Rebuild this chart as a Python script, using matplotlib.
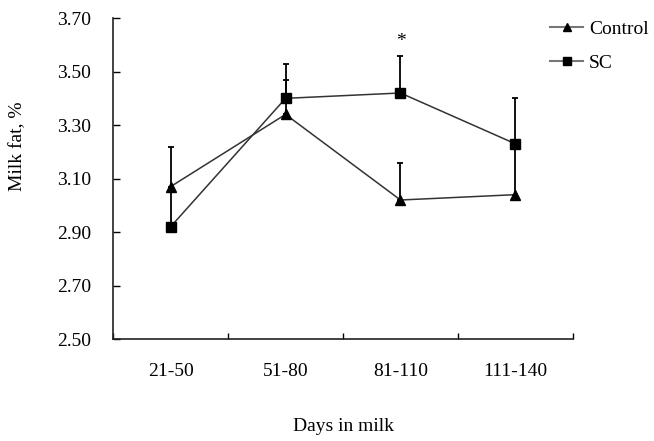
import matplotlib.pyplot as plt
import numpy as np

plt.rcParams['font.family'] = ['Liberation Serif', 'DejaVu Serif']

days = ["21-50", "51-80", "81-110", "111-140"]
control = [3.07, 3.34, 3.02, 3.04]
control_err = [0.15, 0.13, 0.14, 0.19]
sc = [2.92, 3.40, 3.42, 3.23]
sc_err = [0.135, 0.13, 0.14, 0.17]
yticks = [2.50, 2.70, 2.90, 3.10, 3.30, 3.50, 3.70]

x = np.arange(1, len(days) + 1)

fig = plt.figure(figsize=(6.54, 4.41), dpi=100)
ax = fig.add_axes([0.173, 0.231, 0.703, 0.728])

zeros = [0] * len(days)
series = [(control, control_err, '^', 'Control'), (sc, sc_err, 's', 'SC')]
conts = []
for vals, err, mk, lab in series:
    c = ax.errorbar(x, vals, yerr=[zeros, err], fmt='-' + mk, color='#333333',
                    mfc='black', mec='black', ms=7.5, lw=1.1, ecolor='black',
                    elinewidth=1.3, capsize=2.3, capthick=1.3, label=lab)
    c[0].set_zorder(5)
    conts.append(c)

ax.text(3, 3.612, '*', ha='center', va='center', fontsize=14)

ax.set_xlim(0.5, 4.5)
ax.set_ylim(2.50, 3.70)
ax.set_yticks(yticks)
ax.set_yticklabels([f"{v:.2f}" for v in yticks], fontsize=14)
ax.set_xticks(np.arange(0.5, 4.6, 1))
ax.set_xticklabels([])
ax.set_xticks(x, minor=True)
ax.set_xticklabels(days, minor=True, fontsize=14)
ax.tick_params(axis='x', which='major', direction='in', length=4, width=1)
ax.tick_params(axis='x', which='minor', length=0, pad=17)
ax.tick_params(axis='y', direction='in', length=5, width=1, pad=16)

for s in ['top', 'right']:
    ax.spines[s].set_visible(False)
for s in ['left', 'bottom']:
    ax.spines[s].set_linewidth(1.2)
    ax.spines[s].set_color('#222222')

ax.set_xlabel("Days in milk", fontsize=14)
ax.xaxis.set_label_coords(0.5, -0.246)
ax.set_ylabel("Milk fat, %", fontsize=14)
ax.yaxis.set_label_coords(-0.19, 0.6)

handles = [c[0] for c in conts]
labels = [s[3] for s in series]
leg = fig.legend(handles, labels, loc='upper left',
                 bbox_to_anchor=(550 / 654, 1 - 20 / 441),
                 frameon=False, fontsize=14, handlelength=1.7,
                 handletextpad=0.3, labelspacing=0.85, borderaxespad=0,
                 borderpad=0)
for h in leg.legend_handles:
    h.set_color('#777777')
    h.set_linewidth(1.5)
    h.set_markerfacecolor('black')
    h.set_markeredgecolor('black')
    h.set_markersize(6)

fig.savefig("out.png", dpi=100)
